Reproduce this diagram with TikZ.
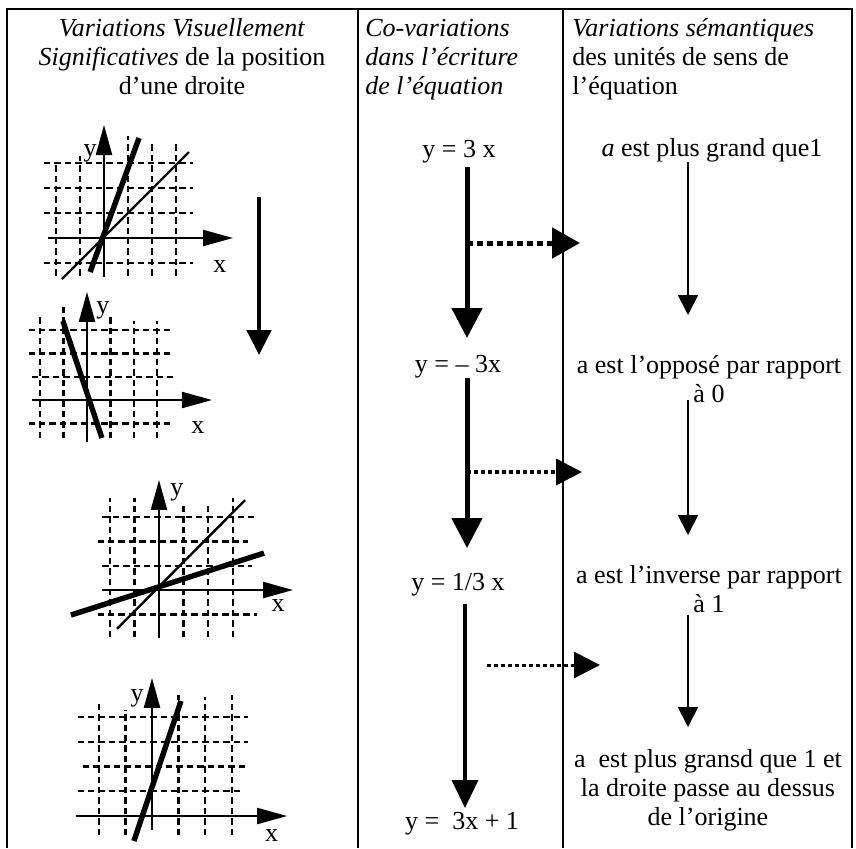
\documentclass[tikz,border=0pt]{standalone}
\usepackage{fontspec}
\setmainfont{Liberation Serif}
\usetikzlibrary{arrows.meta}

\begin{document}
\begin{tikzpicture}[x=0.5pt,y=-0.5pt,
  txt/.style={inner sep=0pt,font=\fontsize{13}{14.5}\selectfont},
  grid/.style={line width=1.2pt,dash pattern=on 3.2pt off 2pt},
  axis/.style={line width=1.1pt,-{Triangle[length=15pt,width=8pt]}},
  thickline/.style={line width=2.7pt},
  thinline/.style={line width=1.2pt},
  bigarrow/.style={line width=2.5pt,-{Triangle[length=15pt,width=15pt]}},
  dotarrow/.style={line width=2.5pt,dash pattern=on 3pt off 2pt,-{Triangle[length=14pt,width=15pt]}},
  smalldot/.style={line width=1.8pt,dash pattern=on 2pt off 1.5pt,-{Triangle[length=13pt,width=13pt]}},
  semarrow/.style={line width=0.9pt,-{Triangle[length=10pt,width=10pt]}}]
\useasboundingbox (0,0) rectangle (856,848);

%table
\draw[line width=1.3pt] (7,848)--(7,9)--(852,9)--(852,848);
\draw[line width=1pt] (358,9)--(358,848) (563,9)--(563,848);

%headers (base = last line)
\node[txt,align=center,anchor=base] (head1) at (182,94) {\textit{Variations Visuellement}\\\textit{Significatives} de la position\\d’une droite};
\node[txt,align=left,anchor=base west] (head2) at (365,94) {\textit{Co-variations}\\\textit{dans l’écriture}\\\textit{de l’équation}};
\node[txt,align=left,anchor=base west] (head3) at (572,94) {\textit{Variations sémantiques}\\des unités de sens de\\l’équation};

%graph 1
\begin{scope}[shift={(104,238)},x=12pt,y=12.5pt]
\foreach \j in {-1,1,2,3} \draw[grid] (-2.5,\j)--(3.7,\j);
\foreach \i/\t in {-2/3.0,-1/3.3,1/4.1,2/3.8,3/3.8} \draw[grid] (\i,-1.5)--(\i,\t);
\draw[axis] (-2.33,0)--(5.375,0);
\draw[axis] (0,-1.56)--(0,4.52);
\node[txt] (y1) at (-0.58,3.4) {y};
\node[txt] (x1) at (4.83,-1.16) {x};
\draw[thickline] (-0.58,-1.36)--(1.46,4.0);
\draw[thinline] (-1.75,-1.64)--(3.54,3.44);
\end{scope}

%graph 2
\begin{scope}[shift={(87,400)},x=11.7pt,y=11.65pt]
\foreach \j/\a/\b in {-1/-2.5/3.6,1/-2.35/3.66,2/-2.5/3.6,3/-2.5/3.6} \draw[grid] (\a,\j)--(\b,\j);
\foreach \i/\t in {-2/3.7,-1/4.0,1/3.7,2/3.4,3/3.4} \draw[grid] (\i,-1.63)--(\i,\t);
\draw[axis] (-2.35,0)--(5.34,0);
\draw[axis] (0,-1.8)--(0,4.64);
\node[txt] (y2) at (0.68,3.86) {y};
\node[txt] (x2) at (4.74,-1.2) {x};
\draw[thickline] (-1.03,3.39)--(0.64,-1.63);
\end{scope}

%graph 3
\begin{scope}[shift={(159,590)},x=12.3pt,y=12.15pt]
\foreach \j/\a/\b in {-1/-2.5/4.0,1/-2.3/3.8,2/-2.5/3.6,3/-2.3/3.9} \draw[grid] (\a,\j)--(\b,\j);
\foreach \i/\t in {-2/3.8,-1/3.8,1/3.6,2/3.6,3/3.8} \draw[grid] (\i,-1.93)--(\i,\t);
\draw[axis] (-2.3,0)--(5.45,0);
\draw[axis] (0,-1.98)--(0,4.53);
\node[txt] (y3) at (0.73,4.03) {y};
\node[txt] (x3) at (4.84,-0.62) {x};
\draw[thinline] (-1.71,-1.6)--(3.5,3.7);
\draw[thickline] (-3.58,-1.03)--(4.27,1.52);
\end{scope}

%graph 4
\begin{scope}[shift={(152,816)},x=13.3pt,y=12.375pt]
\foreach \j/\a/\b in {1/-2.8/3.3,2/-2.6/3.55,3/-2.8/3.6,4/-2.8/3.6} \draw[grid] (\a,\j)--(\b,\j);
\foreach \i/\t in {-2/4.57,-1/4.3,1/4.9,2/4.8,3/4.9} \draw[grid] (\i,-0.77)--(\i,\t);
\draw[axis] (-2.86,0)--(5.08,0);
\draw[axis] (0,-0.57)--(0,5.58);
\node[txt] (y4) at (-0.56,4.77) {y};
\node[txt] (x4) at (4.5,-0.77) {x};
\draw[thickline] (-0.68,-1.01)--(1.09,4.65);
\end{scope}

%arrow col 1
\coordinate (vs) at (259,197);
\coordinate (va) at (259,355);
\draw[line width=2.3pt,-{Triangle[length=12.5pt,width=12pt]}] (vs)--(va);

%equations
\node[txt,anchor=base] (eq1) at (459,157) {y = 3 x};
\node[txt,anchor=base] (eq2) at (458,372) {y = – 3x};
\node[txt,anchor=base] (eq3) at (458,590) {y = 1/3 x};
\node[txt,anchor=base] (eq4) at (462,829) {y = \ 3x + 1};

\coordinate (b1) at (467,338);
\coordinate (b2) at (467,548);
\coordinate (b3) at (465,808);
\draw[bigarrow,shorten <=2pt] (eq1.south -| b1)--(b1);
\draw[bigarrow] (eq2.south -| b2)--(b2);
\draw[line width=1.8pt,-{Triangle[length=14pt,width=13pt]},shorten <=4pt] (eq3.south -| b3)--(b3);

%dotted arrows
\coordinate (d1) at (580,243);
\coordinate (d2) at (582,472);
\coordinate (d3s) at (487,665);
\coordinate (d3) at (600,665);
\draw[dotarrow] (d1 -| b1)--(d1);
\draw[smalldot] (d2 -| b2)--(d2);
\draw[smalldot,line width=1.5pt] (d3s)--(d3);

%semantics (base = last line)
\node[txt,anchor=base] (sem1) at (712,156) {\textit{a} est plus grand que1};
\node[txt,align=center,anchor=base] (sem2) at (709,402) {a est l’opposé par rapport\\à 0};
\node[txt,align=center,anchor=base] (sem3) at (709,612) {a est l’inverse par rapport\\à 1};
\node[txt,align=center,anchor=base] (sem4) at (708,825) {a \ est plus gransd que 1 et\\la droite passe au dessus\\de l’origine};

\coordinate (s1) at (688,315);
\coordinate (s2s) at (688,400);
\coordinate (s2) at (688,535);
\coordinate (s3s) at (688,615);
\coordinate (s3) at (688,727);
\draw[semarrow] (sem1.south -| s1)--(s1);
\draw[semarrow] (s2s)--(s2);
\draw[semarrow] (s3s)--(s3);

\end{tikzpicture}
\end{document}
